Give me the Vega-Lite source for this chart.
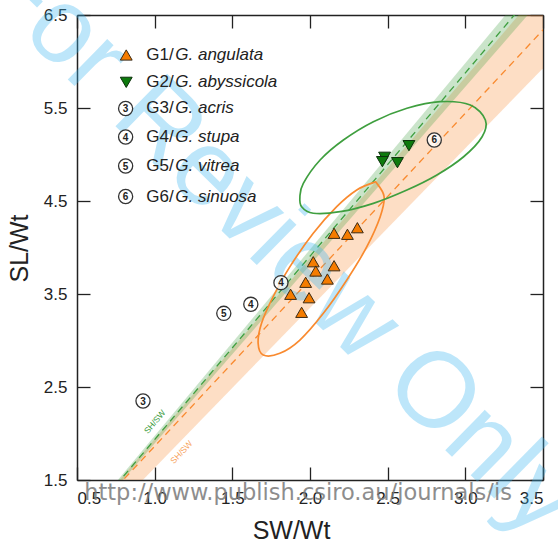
{
  "$schema": "https://vega.github.io/schema/vega-lite/v6.json",
  "width": 466,
  "height": 465,
  "autosize": {"type": "none"},
  "padding": {"left": 77, "top": 15, "right": 15, "bottom": 63},
  "config": {
    "view": {"stroke": null},
    "font": "Liberation Sans",
    "axis": {
      "domainColor": "#222", "domainWidth": 1.5,
      "tickColor": "#222", "tickWidth": 1.3, "tickSize": -13,
      "labelPadding": 23, "labelFontSize": 17, "labelColor": "#222",
      "grid": false, "titleFontSize": 25, "titleFontWeight": "normal", "titleColor": "#222"
    }
  },
  "datasets": {
    "bands": [
      {"grp": "G1", "x": 0.7, "lo": 1.115, "hi": 1.356},
      {"grp": "G1", "x": 3.6, "lo": 6.100, "hi": 6.999},
      {"grp": "G2", "x": 0.7, "lo": 1.318, "hi": 1.374},
      {"grp": "G2", "x": 3.6, "lo": 6.880, "hi": 7.185}
    ],
    "fits": [
      {"grp": "G1", "x": 0.7, "y": 1.326},
      {"grp": "G1", "x": 3.6, "y": 6.518},
      {"grp": "G2", "x": 0.7, "y": 1.344},
      {"grp": "G2", "x": 3.6, "y": 7.06}
    ],
    "ellipses": [
      {"grp": "G1", "i": 1, "x": 2.430, "y": 4.690},
      {"grp": "G1", "i": 2, "x": 2.477, "y": 4.546},
      {"grp": "G1", "i": 3, "x": 2.452, "y": 4.331},
      {"grp": "G1", "i": 4, "x": 2.366, "y": 4.009},
      {"grp": "G1", "i": 5, "x": 2.237, "y": 3.651},
      {"grp": "G1", "i": 6, "x": 2.086, "y": 3.292},
      {"grp": "G1", "i": 7, "x": 1.935, "y": 3.005},
      {"grp": "G1", "i": 8, "x": 1.806, "y": 2.862},
      {"grp": "G1", "i": 9, "x": 1.699, "y": 2.844},
      {"grp": "G1", "i": 10, "x": 1.666, "y": 2.970},
      {"grp": "G1", "i": 11, "x": 1.688, "y": 3.185},
      {"grp": "G1", "i": 12, "x": 1.763, "y": 3.471},
      {"grp": "G1", "i": 13, "x": 1.871, "y": 3.794},
      {"grp": "G1", "i": 14, "x": 2.021, "y": 4.153},
      {"grp": "G1", "i": 15, "x": 2.172, "y": 4.439},
      {"grp": "G1", "i": 16, "x": 2.301, "y": 4.618},
      {"grp": "G1", "i": 17, "x": 2.408, "y": 4.697},
      {"grp": "G2", "i": 1, "x": 1.935, "y": 4.546},
      {"grp": "G2", "i": 2, "x": 1.957, "y": 4.690},
      {"grp": "G2", "i": 3, "x": 2.065, "y": 4.941},
      {"grp": "G2", "i": 4, "x": 2.215, "y": 5.156},
      {"grp": "G2", "i": 5, "x": 2.408, "y": 5.353},
      {"grp": "G2", "i": 6, "x": 2.624, "y": 5.497},
      {"grp": "G2", "i": 7, "x": 2.839, "y": 5.568},
      {"grp": "G2", "i": 8, "x": 3.032, "y": 5.532},
      {"grp": "G2", "i": 9, "x": 3.129, "y": 5.371},
      {"grp": "G2", "i": 10, "x": 3.108, "y": 5.191},
      {"grp": "G2", "i": 11, "x": 2.989, "y": 4.976},
      {"grp": "G2", "i": 12, "x": 2.817, "y": 4.780},
      {"grp": "G2", "i": 13, "x": 2.624, "y": 4.618},
      {"grp": "G2", "i": 14, "x": 2.408, "y": 4.475},
      {"grp": "G2", "i": 15, "x": 2.194, "y": 4.385},
      {"grp": "G2", "i": 16, "x": 2.021, "y": 4.368},
      {"grp": "G2", "i": 17, "x": 1.946, "y": 4.439}
    ],
    "specimens": [
      {"grp": "G1", "x": 2.155, "y": 4.153},
      {"grp": "G1", "x": 2.241, "y": 4.142},
      {"grp": "G1", "x": 2.305, "y": 4.213},
      {"grp": "G1", "x": 2.021, "y": 3.847},
      {"grp": "G1", "x": 2.037, "y": 3.747},
      {"grp": "G1", "x": 2.155, "y": 3.804},
      {"grp": "G1", "x": 2.112, "y": 3.661},
      {"grp": "G1", "x": 1.972, "y": 3.626},
      {"grp": "G1", "x": 1.875, "y": 3.497},
      {"grp": "G1", "x": 1.994, "y": 3.460},
      {"grp": "G1", "x": 1.946, "y": 3.303},
      {"grp": "G2", "x": 2.480, "y": 4.970},
      {"grp": "G2", "x": 2.466, "y": 4.923},
      {"grp": "G2", "x": 2.563, "y": 4.912},
      {"grp": "G2", "x": 2.637, "y": 5.095},
      {"grp": "G3", "num": "3", "x": 0.925, "y": 2.349},
      {"grp": "G4", "num": "4", "x": 1.813, "y": 3.622},
      {"grp": "G4", "num": "4", "x": 1.619, "y": 3.389},
      {"grp": "G5", "num": "5", "x": 1.445, "y": 3.292},
      {"grp": "G6", "num": "6", "x": 2.800, "y": 5.156}
    ],
    "legend": [
      {"grp": "G1", "num": "", "x": 0.817, "tx": 0.946, "y": 6.070, "pre": "G1/", "name": "G. angulata"},
      {"grp": "G2", "num": "", "x": 0.817, "tx": 0.946, "y": 5.776, "pre": "G2/", "name": "G. abyssicola"},
      {"grp": "G3", "num": "3", "x": 0.813, "tx": 0.946, "y": 5.495, "pre": "G3/", "name": "G. acris"},
      {"grp": "G4", "num": "4", "x": 0.813, "tx": 0.946, "y": 5.188, "pre": "G4/", "name": "G. stupa"},
      {"grp": "G5", "num": "5", "x": 0.813, "tx": 0.946, "y": 4.876, "pre": "G5/", "name": "G. vitrea"},
      {"grp": "G6", "num": "6", "x": 0.813, "tx": 0.946, "y": 4.548, "pre": "G6/", "name": "G. sinuosa"}
    ],
    "fitlabels": [
      {"grp": "G2", "label": "SH/SW", "x": 1.0, "y": 2.127},
      {"grp": "G1", "label": "SH/SW", "x": 1.172, "y": 1.801}
    ]
  },
  "layer": [
    {
      "data": {"name": "bands"},
      "mark": {"type": "area", "clip": true, "opacity": 0.28},
      "encoding": {
        "x": {"field": "x", "type": "quantitative",
              "scale": {"domain": [0.5, 3.5], "nice": false, "zero": false},
              "axis": {"orient": "bottom", "values": [0.5, 1, 1.5, 2, 2.5, 3, 3.5], "format": ".1f",
                       "title": "SW/Wt", "titleX": 214, "titleY": 58, "titleBaseline": "alphabetic"}},
        "y": {"field": "lo", "type": "quantitative",
              "scale": {"domain": [1.5, 6.5], "nice": false, "zero": false},
              "axis": {"orient": "left", "values": [1.5, 2.5, 3.5, 4.5, 5.5, 6.5], "format": ".1f",
                       "title": "SL/Wt", "titleX": -50, "titleY": 233, "titleBaseline": "alphabetic", "titleAngle": -90}},
        "y2": {"field": "hi"},
        "color": {"field": "grp", "type": "nominal", "scale": {"domain": ["G1", "G2"], "range": ["#f98a2f", "#3f9f3f"]}, "legend": null}
      }
    },
    {
      "data": {"name": "fits"},
      "mark": {"type": "line", "clip": true, "strokeDash": [7, 5], "strokeWidth": 1.3},
      "encoding": {
        "x": {"field": "x", "type": "quantitative",
              "axis": {"orient": "top", "values": [0.5, 1, 1.5, 2, 2.5, 3, 3.5], "labels": false, "title": null}},
        "y": {"field": "y", "type": "quantitative",
              "axis": {"orient": "right", "values": [1.5, 2.5, 3.5, 4.5, 5.5, 6.5], "labels": false, "title": null}},
        "color": {"field": "grp", "type": "nominal", "scale": {"domain": ["G1", "G2"], "range": ["#f7941d", "#2e9a2e"]}, "legend": null}
      }
    },
    {
      "data": {"name": "fitlabels"},
      "transform": [{"filter": "datum.grp === 'G2'"}],
      "mark": {"type": "text", "angle": -49.8, "fontSize": 8.5, "color": "#3a9a3a", "align": "center", "baseline": "middle"},
      "encoding": {
        "x": {"field": "x", "type": "quantitative", "axis": null},
        "y": {"field": "y", "type": "quantitative", "axis": null},
        "text": {"field": "label"}
      }
    },
    {
      "data": {"name": "fitlabels"},
      "transform": [{"filter": "datum.grp === 'G1'"}],
      "mark": {"type": "text", "angle": -47, "fontSize": 8.5, "color": "#f7a35c", "align": "center", "baseline": "middle"},
      "encoding": {
        "x": {"field": "x", "type": "quantitative", "axis": null},
        "y": {"field": "y", "type": "quantitative", "axis": null},
        "text": {"field": "label"}
      }
    },
    {
      "data": {"values": [{"wm": "For Review Only"}]},
      "mark": {"type": "text", "angle": 44.5, "fontSize": 107, "color": "#39b6f2", "opacity": 0.33, "align": "center", "baseline": "middle"},
      "encoding": {
        "x": {"datum": 1.794, "type": "quantitative", "axis": null},
        "y": {"datum": 4.07, "type": "quantitative", "axis": null},
        "text": {"field": "wm"}
      }
    },
    {
      "data": {"name": "ellipses"},
      "mark": {"type": "line", "interpolate": "cardinal-closed", "strokeWidth": 1.7},
      "encoding": {
        "x": {"field": "x", "type": "quantitative", "axis": null},
        "y": {"field": "y", "type": "quantitative", "axis": null},
        "order": {"field": "i", "type": "quantitative"},
        "color": {"field": "grp", "type": "nominal", "scale": {"domain": ["G1", "G2"], "range": ["#f7941d", "#2a8c2a"]}, "legend": null}
      }
    },
    {
      "data": {"name": "specimens"},
      "transform": [{"filter": "datum.grp === 'G1'"}],
      "mark": {"type": "point", "shape": "triangle-up", "filled": true, "size": 140, "fill": "#f57c00", "stroke": "#3b2a14", "strokeWidth": 1, "opacity": 1},
      "encoding": {
        "x": {"field": "x", "type": "quantitative", "axis": null},
        "y": {"field": "y", "type": "quantitative", "axis": null}
      }
    },
    {
      "data": {"name": "specimens"},
      "transform": [{"filter": "datum.grp === 'G2'"}],
      "mark": {"type": "point", "shape": "triangle-down", "filled": true, "size": 140, "fill": "#0d7a0d", "stroke": "#0b300b", "strokeWidth": 1, "opacity": 1},
      "encoding": {
        "x": {"field": "x", "type": "quantitative", "axis": null},
        "y": {"field": "y", "type": "quantitative", "axis": null}
      }
    },
    {
      "data": {"name": "specimens"},
      "transform": [{"filter": "datum.num != null"}],
      "mark": {"type": "point", "shape": "circle", "filled": true, "size": 200, "fill": "#ffffff", "fillOpacity": 0.75, "stroke": "#333333", "strokeWidth": 1.3},
      "encoding": {
        "x": {"field": "x", "type": "quantitative", "axis": null},
        "y": {"field": "y", "type": "quantitative", "axis": null}
      }
    },
    {
      "data": {"name": "specimens"},
      "transform": [{"filter": "datum.num != null"}],
      "mark": {"type": "text", "fontSize": 10, "fontWeight": "bold", "color": "#222", "align": "center", "baseline": "middle", "dy": 0.5},
      "encoding": {
        "x": {"field": "x", "type": "quantitative", "axis": null},
        "y": {"field": "y", "type": "quantitative", "axis": null},
        "text": {"field": "num"}
      }
    },
    {
      "data": {"name": "legend"},
      "transform": [{"filter": "datum.grp === 'G1'"}],
      "mark": {"type": "point", "shape": "triangle-up", "filled": true, "size": 140, "fill": "#f57c00", "stroke": "#3b2a14", "strokeWidth": 1, "opacity": 1},
      "encoding": {
        "x": {"field": "x", "type": "quantitative", "axis": null},
        "y": {"field": "y", "type": "quantitative", "axis": null}
      }
    },
    {
      "data": {"name": "legend"},
      "transform": [{"filter": "datum.grp === 'G2'"}],
      "mark": {"type": "point", "shape": "triangle-down", "filled": true, "size": 140, "fill": "#0d7a0d", "stroke": "#0b300b", "strokeWidth": 1, "opacity": 1},
      "encoding": {
        "x": {"field": "x", "type": "quantitative", "axis": null},
        "y": {"field": "y", "type": "quantitative", "axis": null}
      }
    },
    {
      "data": {"name": "legend"},
      "transform": [{"filter": "datum.num !== ''"}],
      "mark": {"type": "point", "shape": "circle", "filled": true, "size": 200, "fill": "#ffffff", "stroke": "#333333", "strokeWidth": 1.3, "opacity": 1},
      "encoding": {
        "x": {"field": "x", "type": "quantitative", "axis": null},
        "y": {"field": "y", "type": "quantitative", "axis": null}
      }
    },
    {
      "data": {"name": "legend"},
      "transform": [{"filter": "datum.num !== ''"}],
      "mark": {"type": "text", "fontSize": 10, "fontWeight": "bold", "color": "#222", "align": "center", "baseline": "middle", "dy": 0.5},
      "encoding": {
        "x": {"field": "x", "type": "quantitative", "axis": null},
        "y": {"field": "y", "type": "quantitative", "axis": null},
        "text": {"field": "num"}
      }
    },
    {
      "data": {"name": "legend"},
      "mark": {"type": "text", "fontSize": 17, "color": "#222", "align": "left", "baseline": "middle"},
      "encoding": {
        "x": {"field": "tx", "type": "quantitative", "axis": null},
        "y": {"field": "y", "type": "quantitative", "axis": null},
        "text": {"field": "pre"}
      }
    },
    {
      "data": {"name": "legend"},
      "mark": {"type": "text", "fontSize": 17, "fontStyle": "italic", "color": "#222", "align": "left", "baseline": "middle", "dx": 29},
      "encoding": {
        "x": {"field": "tx", "type": "quantitative", "axis": null},
        "y": {"field": "y", "type": "quantitative", "axis": null},
        "text": {"field": "name"}
      }
    },
    {
      "data": {"values": [{"url": "http://www.publish.csiro.au/journals/is"}]},
      "mark": {"type": "text", "font": "DejaVu Sans", "fontSize": 22.5, "color": "#7a7a7a", "opacity": 0.85, "align": "center", "baseline": "alphabetic"},
      "encoding": {
        "x": {"datum": 1.923, "type": "quantitative", "axis": null},
        "y": {"datum": 1.285, "type": "quantitative", "axis": null},
        "text": {"field": "url"}
      }
    }
  ],
  "resolve": {"axis": {"x": "independent", "y": "independent"}}
}
